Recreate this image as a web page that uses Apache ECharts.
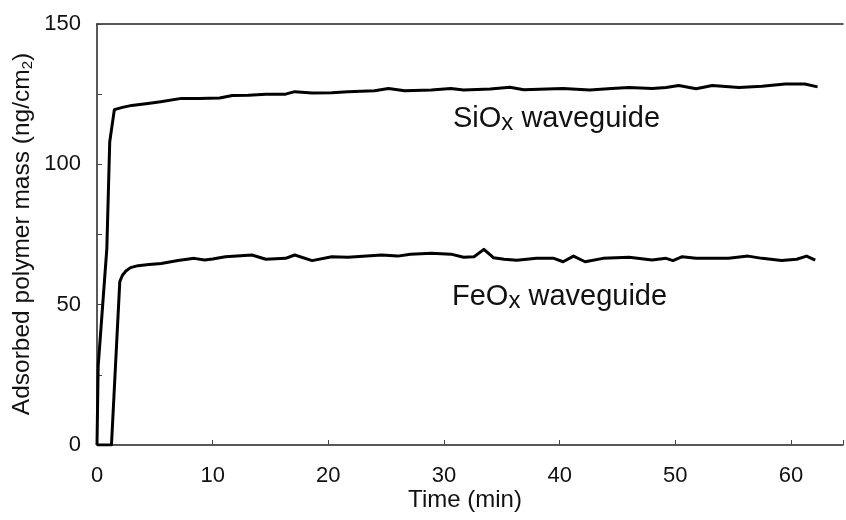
<!DOCTYPE html>
<html>
<head>
<meta charset="utf-8">
<script src="https://cdn.jsdelivr.net/npm/echarts@6/dist/echarts.min.js"></script>
<style>
html,body{margin:0;padding:0;background:#fff;}
#chart{width:846px;height:520px;}
</style>
</head>
<body>
<div id="chart"></div>
<script>
// ---- data ----
var siTime = [0, 0.1, 0.85, 1.1, 1.5, 2.2, 3.0, 4.4, 5.5, 7.3, 8.8, 10.6, 11.7, 13.1, 14.6, 16.3, 17.1, 18.6, 20.3, 21.7, 24.0, 25.2, 26.6, 28.9, 30.6, 31.7, 34.0, 35.7, 36.9, 38.9, 40.3, 42.6, 44.5, 46.0, 48.0, 49.2, 50.3, 51.8, 53.2, 55.5, 57.5, 59.5, 61.2, 62.3];
var siMass = [0, 28, 70, 108, 119.5, 120.3, 121.0, 121.7, 122.3, 123.5, 123.5, 123.6, 124.5, 124.6, 125.0, 125.0, 125.9, 125.4, 125.5, 125.9, 126.2, 127.0, 126.2, 126.5, 127.0, 126.5, 126.8, 127.5, 126.6, 126.8, 127.0, 126.5, 127.0, 127.4, 127.0, 127.4, 128.1, 126.9, 128.1, 127.4, 127.8, 128.6, 128.6, 127.6];
var feTime = [0, 1.25, 1.97, 2.2, 2.5, 2.9, 3.55, 4.5, 5.55, 7.0, 8.4, 9.3, 10.0, 11.1, 13.4, 14.6, 16.3, 17.1, 18.6, 20.3, 21.7, 24.6, 26.0, 27.1, 28.9, 30.6, 31.7, 32.6, 33.45, 34.3, 35.2, 36.3, 38.0, 39.5, 40.3, 41.2, 42.2, 43.75, 46.0, 48.0, 49.2, 49.8, 50.6, 51.8, 54.6, 56.3, 57.5, 59.2, 60.5, 61.35, 62.1];
var feMass = [0, 0, 58.2, 60.5, 62.0, 63.2, 63.9, 64.3, 64.7, 65.7, 66.5, 65.9, 66.3, 67.1, 67.7, 66.2, 66.5, 67.7, 65.7, 67.1, 66.9, 67.7, 67.3, 68.0, 68.3, 68.0, 66.9, 67.1, 69.7, 66.7, 66.2, 65.8, 66.5, 66.5, 65.3, 67.3, 65.3, 66.5, 66.9, 65.9, 66.5, 65.7, 67.1, 66.5, 66.5, 67.3, 66.5, 65.7, 66.2, 67.3, 65.9];
var xTickLabels = [0, 10, 20, 30, 40, 50, 60];
var yTickLabels = [0, 50, 100, 150];
var seriesNames = ['SiOx waveguide', 'FeOx waveguide'];

function pairs(t, v) { return t.map(function (x, i) { return [x, v[i]]; }); }

var FONTNAME = '"Liberation Sans", Arial, sans-serif';
var mctx = document.createElement('canvas').getContext('2d');
function textW(s, size) { mctx.font = size + 'px ' + FONTNAME; return mctx.measureText(s).width; }

// text with a subscript, laid out along local x; returns children array
function subParts(pieces, size, subSize, subDrop, color) {
  // pieces: [[text, isSub], ...]
  var total = 0;
  pieces.forEach(function (p) { total += textW(p[0], p[1] ? subSize : size); });
  var x = 0, out = [];
  pieces.forEach(function (p) {
    var sz = p[1] ? subSize : size;
    out.push({
      type: 'text', x: x, y: p[1] ? subDrop : 0,
      style: {text: p[0], fill: color, font: sz + 'px ' + FONTNAME, align: 'left', verticalAlign: 'middle'}
    });
    x += textW(p[0], sz);
  });
  return {children: out, width: total};
}

var siLab = subParts([['SiO', false], ['x', true], [' waveguide', false]], 29, 24, 5, '#111');
var feLab = subParts([['FeO', false], ['x', true], [' waveguide', false]], 29, 24, 5, '#111');
var yLab = subParts([['Adsorbed polymer mass (ng/cm', false], ['2', true], [')', false]], 24.5, 15, 6, '#111');

var FONT = FONTNAME;
var chart = echarts.init(document.getElementById('chart'), null, {renderer: 'canvas'});
chart.setOption({
  backgroundColor: '#fff',
  animation: false,
  grid: {left: 97, top: 24, right: -4, bottom: 75, containLabel: false},
  xAxis: [{
    type: 'value', min: 0, max: 64.5, interval: 10, position: 'bottom',
    axisLine: {show: true, lineStyle: {color: '#222', width: 1.5}},
    axisTick: {show: true, inside: true, length: 5, lineStyle: {color: '#444', width: 1}},
    splitLine: {show: false},
    axisLabel: {
      margin: 20, color: '#111', fontFamily: FONT, fontSize: 22,
      formatter: function (v) { return xTickLabels.indexOf(v) >= 0 ? String(v) : ''; }
    }
  }, {
    type: 'value', min: 0, max: 64.5, position: 'top',
    axisLine: {show: true, lineStyle: {color: '#222', width: 1.5}},
    axisTick: {show: false}, axisLabel: {show: false}, splitLine: {show: false}
  }],
  yAxis: {
    type: 'value', min: 0, max: 150, interval: 25,
    axisLine: {show: true, lineStyle: {color: '#222', width: 1.5}},
    axisTick: {show: true, inside: true, length: 5, lineStyle: {color: '#444', width: 1}},
    splitLine: {show: false},
    axisLabel: {
      margin: 16, color: '#111', fontFamily: FONT, fontSize: 22,
      formatter: function (v) { return yTickLabels.indexOf(v) >= 0 ? String(v) : ''; }
    }
  },
  series: [{
    name: seriesNames[0], type: 'line', data: pairs(siTime, siMass),
    showSymbol: false, smooth: false, lineStyle: {color: '#000', width: 3, join: 'round'}, z: 3
  }, {
    name: seriesNames[1], type: 'line', data: pairs(feTime, feMass),
    showSymbol: false, smooth: false, lineStyle: {color: '#000', width: 3, join: 'round'}, z: 3
  }],
  graphic: [{
    type: 'group', x: 22, y: 234 + yLab.width / 2, rotation: Math.PI / 2,
    children: yLab.children
  }, {
    type: 'text', x: 465, y: 500,
    style: {text: 'Time (min)', fill: '#111', font: '24px ' + FONT, align: 'center', verticalAlign: 'middle'}
  }, {
    type: 'group', x: 453, y: 118.5, children: siLab.children
  }, {
    type: 'group', x: 452, y: 296.5, children: feLab.children
  }]
});
</script>
</body>
</html>
